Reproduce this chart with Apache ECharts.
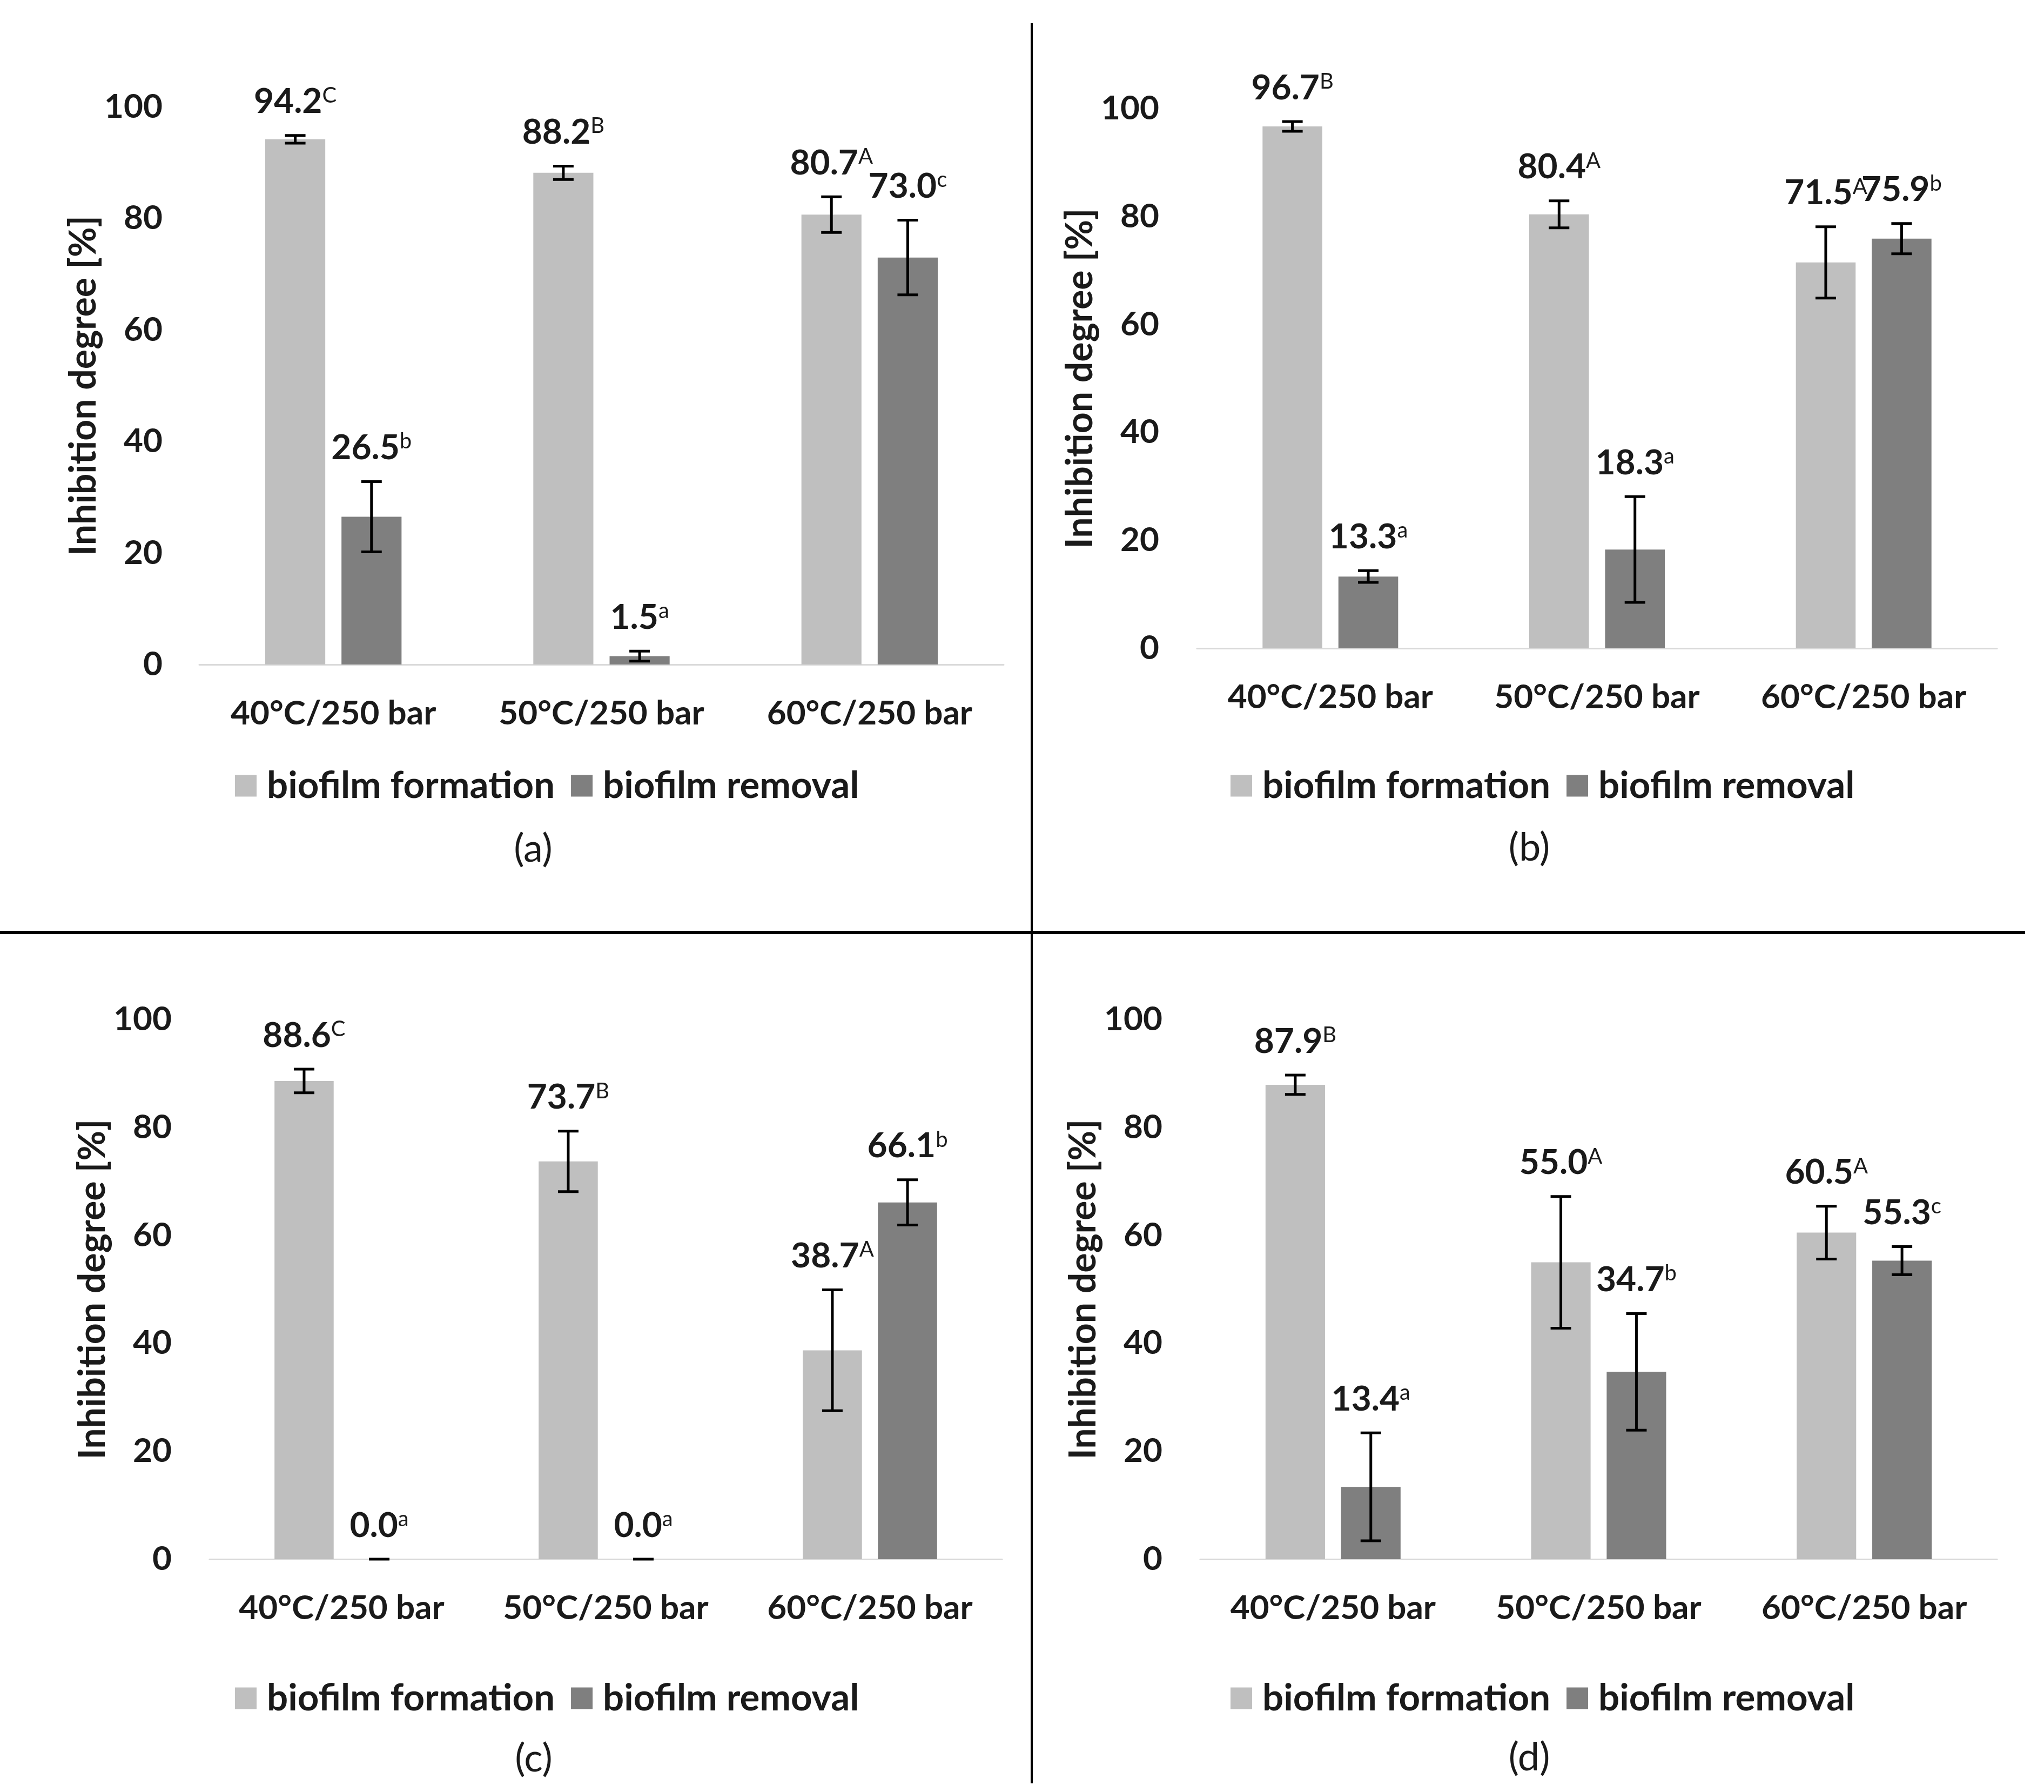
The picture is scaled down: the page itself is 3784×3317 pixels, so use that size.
<!DOCTYPE html>
<html>
<head>
<meta charset="utf-8">
<script src="https://cdn.jsdelivr.net/npm/echarts@6/dist/echarts.min.js"></script>
<style>
html,body{margin:0;padding:0;background:#fff;}
#chart{width:3784px;height:3317px;}
</style>
</head>
<body>
<div id="chart"></div>
<script>
// ---------- data ----------
const categories = ['40°C/250 bar', '50°C/250 bar', '60°C/250 bar'];
const seriesNames = ['biofilm formation', 'biofilm removal'];
const captions = ['(a)', '(b)', '(c)', '(d)'];

// panel (a)
const formationA = [94.2, 88.2, 80.7];
const formationErrA = [0.7, 1.2, 3.2];
const formationLetA = ['C', 'B', 'A'];
const removalA = [26.5, 1.5, 73.0];
const removalErrA = [6.3, 0.9, 6.7];
const removalLetA = ['b', 'a', 'c'];

// panel (b)
const formationB = [96.7, 80.4, 71.5];
const formationErrB = [0.9, 2.5, 6.6];
const formationLetB = ['B', 'A', 'A'];
const removalB = [13.3, 18.3, 75.9];
const removalErrB = [1.1, 9.8, 2.8];
const removalLetB = ['a', 'a', 'b'];

// panel (c)
const formationC = [88.6, 73.7, 38.7];
const formationErrC = [2.2, 5.6, 11.2];
const formationLetC = ['C', 'B', 'A'];
const removalC = [0.0, 0.0, 66.1];
const removalErrC = [0, 0, 4.2];
const removalLetC = ['a', 'a', 'b'];

// panel (d)
const formationD = [87.9, 55.0, 60.5];
const formationErrD = [1.8, 12.2, 4.9];
const formationLetD = ['B', 'A', 'A'];
const removalD = [13.4, 34.7, 55.3];
const removalErrD = [10.0, 10.8, 2.6];
const removalLetD = ['a', 'b', 'c'];

const yMin = 0, yMax = 100, yInterval = 20;

// ---------- styling / layout ----------
const FONT = 'Lato';
const TXT = '#1a1a1a';
const COLORS = ['#BFBFBF', '#7F7F7F'];
const BAR_W = 0.224;   // fraction of category band
const BAR_GAP = 0.27;  // fraction of bar width
const CAP = 19;
const LABEL_GAP = 30;

const panels = [
  {grid:{left:369, top:198, width:1489, height:1032}, yMargin:68, nameGap:176, legendLeft:430, legendTop:1415, cap:[987,1572],
   f:formationA, fe:formationErrA, fl:formationLetA, r:removalA, re:removalErrA, rl:removalLetA},
  {grid:{left:2216, top:201, width:1481, height:999}, yMargin:70, nameGap:172, legendLeft:2273, legendTop:1415, cap:[2831,1570],
   f:formationB, fe:formationErrB, fl:formationLetB, r:removalB, re:removalErrB, rl:removalLetB},
  {grid:{left:388, top:1887, width:1467, height:999}, yMargin:70, nameGap:182, legendLeft:430, legendTop:3104, cap:[988,3256],
   f:formationC, fe:formationErrC, fl:formationLetC, r:removalC, re:removalErrC, rl:removalLetC},
  {grid:{left:2222, top:1887, width:1475, height:999}, yMargin:70, nameGap:169, legendLeft:2273, legendTop:3104, cap:[2831,3254],
   f:formationD, fe:formationErrD, fl:formationLetD, r:removalD, re:removalErrD, rl:removalLetD}
];

function errSeries(gi, pos, values, errs, letters) {
  return {
    type: 'custom',
    name: 'err' + gi + pos,
    xAxisIndex: gi, yAxisIndex: gi,
    z: 10,
    silent: true,
    data: values.map((v, i) => [i, v, errs[i]]),
    renderItem: function (params, api) {
      const i = api.value(0), v = api.value(1), e = api.value(2);
      const letter = letters[params.dataIndex];
      const c = api.coord([i, v]);
      const band = api.size([1, 0])[0];
      const w = band * BAR_W, g = w * BAR_GAP;
      const x = c[0] + (pos === 0 ? -1 : 1) * (w + g) / 2;
      const yTop = api.coord([i, v + e])[1];
      const yBot = api.coord([i, Math.max(v - e, 0)])[1];
      const ls = {stroke: '#000', lineWidth: 5};
      const children = [];
      if (e > 0) {
        children.push({type: 'line', shape: {x1: x, y1: yTop, x2: x, y2: yBot}, style: ls});
        children.push({type: 'line', shape: {x1: x - CAP, y1: yBot, x2: x + CAP, y2: yBot}, style: ls});
      }
      children.push({type: 'line', shape: {x1: x - CAP, y1: yTop, x2: x + CAP, y2: yTop}, style: ls});
      children.push({
        type: 'text', x: x, y: yTop - LABEL_GAP,
        style: {
          text: '{v|' + v.toFixed(1) + '}{s|' + letter + '}',
          align: 'center', verticalAlign: 'bottom',
          rich: {
            v: {fontFamily: FONT, fontWeight: 'bold', fontSize: 64, lineHeight: 64, fill: TXT},
            s: {fontFamily: FONT, fontWeight: 'normal', fontSize: 40, lineHeight: 40, fill: TXT, verticalAlign: 'top'}
          }
        }
      });
      return {type: 'group', children: children};
    }
  };
}

const option = {
  backgroundColor: '#fff',
  animation: false,
  textStyle: {fontFamily: FONT, color: TXT},
  grid: panels.map(p => p.grid),
  xAxis: panels.map((p, gi) => ({
    type: 'category', gridIndex: gi, data: categories,
    axisLine: {lineStyle: {color: '#D9D9D9', width: 3}},
    axisTick: {show: false},
    axisLabel: {interval: 0, color: TXT, fontFamily: FONT, fontWeight: 'bold', fontSize: 62, margin: 60}
  })),
  yAxis: panels.map((p, gi) => ({
    type: 'value', gridIndex: gi, min: yMin, max: yMax, interval: yInterval,
    name: 'Inhibition degree [%]', nameLocation: 'middle', nameGap: p.nameGap, nameRotate: 90,
    nameTextStyle: {color: TXT, fontFamily: FONT, fontWeight: 'bold', fontSize: 68},
    axisLine: {show: false}, axisTick: {show: false}, splitLine: {show: false},
    axisLabel: {color: TXT, fontFamily: FONT, fontWeight: 'bold', fontSize: 62, margin: p.yMargin}
  })),
  legend: panels.map(p => ({
    data: seriesNames,
    left: p.legendLeft, top: p.legendTop,
    icon: 'rect', itemWidth: 40, itemHeight: 40, itemGap: 30,
    selectedMode: false,
    textStyle: {color: TXT, fontFamily: FONT, fontWeight: 'bold', fontSize: 69, padding: [0, 0, 0, 14]}
  })),
  series: [],
  graphic: [
    {type: 'line', shape: {x1: 1910, y1: 43, x2: 1910, y2: 3301}, style: {stroke: '#000', lineWidth: 4}},
    {type: 'line', shape: {x1: 0, y1: 1726, x2: 3749, y2: 1726}, style: {stroke: '#000', lineWidth: 6}}
  ].concat(panels.map((p, gi) => ({
    type: 'text', x: p.cap[0], y: p.cap[1],
    style: {text: captions[gi], fontFamily: FONT, fontSize: 72, fill: TXT, align: 'center', verticalAlign: 'middle'}
  })))
};

panels.forEach((p, gi) => {
  option.series.push({
    type: 'bar', name: seriesNames[0], xAxisIndex: gi, yAxisIndex: gi,
    data: p.f, barWidth: (BAR_W * 100) + '%', barGap: (BAR_GAP * 100) + '%',
    itemStyle: {color: COLORS[0]}
  });
  option.series.push({
    type: 'bar', name: seriesNames[1], xAxisIndex: gi, yAxisIndex: gi,
    data: p.r, barWidth: (BAR_W * 100) + '%', barGap: (BAR_GAP * 100) + '%',
    itemStyle: {color: COLORS[1]}
  });
  option.series.push(errSeries(gi, 0, p.f, p.fe, p.fl));
  option.series.push(errSeries(gi, 1, p.r, p.re, p.rl));
});

const chart = echarts.init(document.getElementById('chart'), null, {renderer: 'canvas'});
chart.setOption(option);
</script>
</body>
</html>
